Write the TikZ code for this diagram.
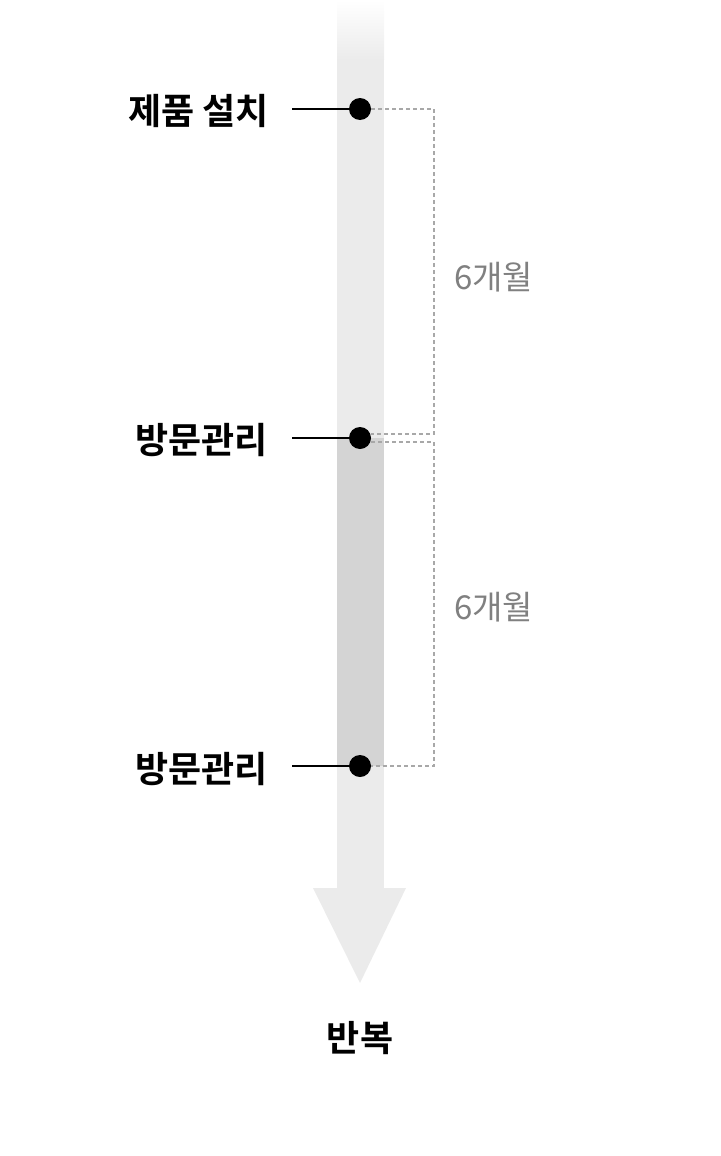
\documentclass[tikz,border=0pt]{standalone}
\usepackage{fontspec}
\newfontfamily\cjk{Noto Sans CJK KR}
\newfontfamily\cjkb{Noto Sans CJK KR Bold}
\usetikzlibrary{shapes.geometric}
\definecolor{barlight}{HTML}{EBEBEB}
\definecolor{bardark}{HTML}{D4D4D4}
\definecolor{dashgray}{HTML}{A8A8A8}
\definecolor{textgray}{HTML}{808080}
\tikzset{
  stagelabel/.style={anchor=east,inner sep=0pt,font=\cjkb\fontsize{36}{40}\selectfont,text=black},
  periodlabel/.style={anchor=west,inner sep=0pt,font=\cjk\fontsize{33}{36}\selectfont,text=textgray},
  dotnode/.style={circle,fill=black,minimum size=22pt,inner sep=0pt},
  leader/.style={line width=2pt,black},
  bracket/.style={dashgray,line width=1.5pt,dash pattern=on 4pt off 3pt},
}
\begin{document}
\begin{tikzpicture}[x=1pt,y=-1pt]
\useasboundingbox (0,0) rectangle (720,1156);
% bar
\shade[top color=white,bottom color=barlight] (337,0) rectangle (384,60);
\fill[barlight] (337,59.5) rectangle (384,889);
\fill[bardark] (337,438) rectangle (384,766);
\fill[barlight] (313,888) -- (406,888) -- (360,983) -- cycle;
% dots
\node[dotnode] (d1) at (360,109) {};
\node[dotnode] (d2) at (360,438) {};
\node[dotnode] (d3) at (360,766) {};
% leaders
\coordinate (l1) at (292,109);
\coordinate (l2) at (292,438);
\coordinate (l3) at (292,766);
\draw[leader] (l1) -- (d1.west);
\draw[leader] (l2) -- (d2.west);
\draw[leader] (l3) -- (d3.west);
% labels
\node[stagelabel] (t1) at (269,111) {제품 설치};
\node[stagelabel] (t2) at (268,440) {방문관리};
\node[stagelabel] (t3) at (268,769) {방문관리};
\node[inner sep=0pt,font=\cjkb\fontsize{36}{40}\selectfont] (rep) at (360,1038) {반복};
% brackets
\coordinate (b1) at (434,109);
\coordinate (b2) at (434,434);
\coordinate (b3) at (434,442);
\coordinate (b4) at (434,766);
\draw[bracket] (d1.east) -- (b1) -- (b2) -- (d2.east |- b2);
\draw[bracket] (d2.east |- b3) -- (b3) -- (b4) -- (d3.east);
\node[periodlabel] (p1) at (454,277) {6개월};
\node[periodlabel] (p2) at (454,607) {6개월};
\end{tikzpicture}
\end{document}
